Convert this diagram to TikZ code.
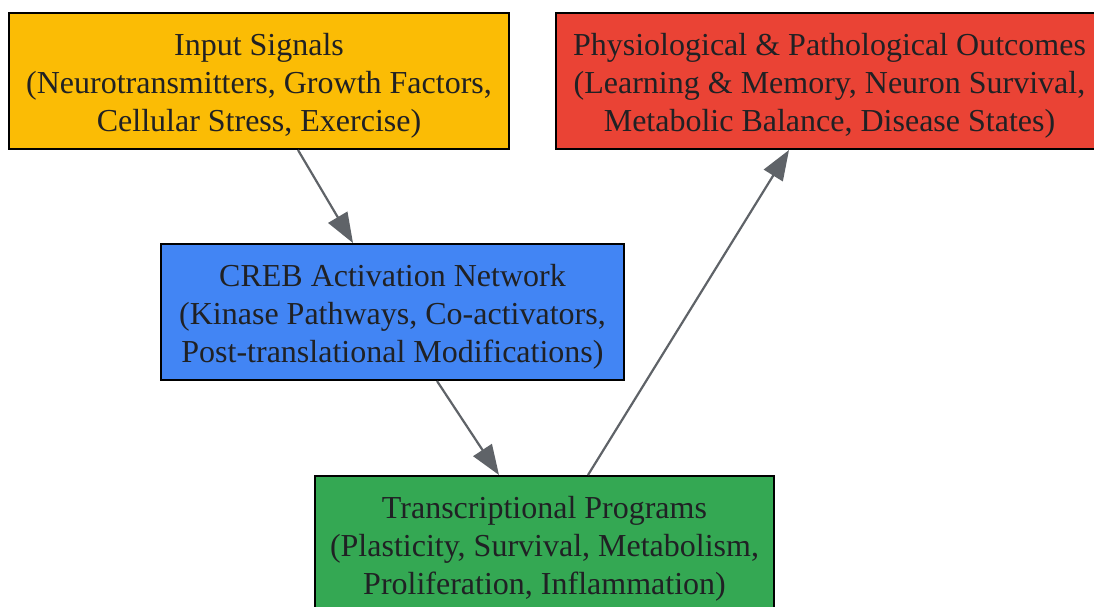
\documentclass[tikz,border=0pt]{standalone}
\usepackage{fontspec}
\setmainfont{Liberation Serif}
\usetikzlibrary{arrows.meta}

\definecolor{sigyellow}{HTML}{FBBC05}
\definecolor{outred}{HTML}{EA4335}
\definecolor{crebblue}{HTML}{4285F4}
\definecolor{progreen}{HTML}{34A853}
\definecolor{edgegray}{HTML}{5F6368}
\definecolor{txtdark}{HTML}{202124}

% extra room above the first line, pushes the text block down a little
\newcommand{\stagepad}{\rule{0pt}{32pt}}

\begin{document}
\begin{tikzpicture}[x=1pt,y=-1pt,
    box/.style={draw=black,line width=2pt,align=center,inner sep=0pt,
                text=txtdark,font=\fontsize{32}{38}\selectfont},
    link/.style={draw=edgegray,line width=2.2pt,
                 -{Triangle[length=30pt,width=22pt]}}]
    \useasboundingbox (0,0) rectangle (1094,606);

    % the four stages
    \node[box,fill=sigyellow,minimum width=500pt,minimum height=136pt] (inp) at (259,81)
        {\stagepad Input Signals\\(Neurotransmitters, Growth Factors,\\Cellular Stress, Exercise)};
    \node[box,fill=outred,minimum width=547pt,minimum height=136pt] (out) at (829.5,81)
        {\stagepad Physiological \& Pathological Outcomes\\(Learning \& Memory, Neuron Survival,\\Metabolic Balance, Disease States)};
    \node[box,fill=crebblue,minimum width=463pt,minimum height=136pt] (creb) at (392.5,312)
        {\stagepad CREB Activation Network\\(Kinase Pathways, Co-activators,\\Post-translational Modifications)};
    \node[box,fill=progreen,minimum width=459pt,minimum height=136pt] (prog) at (544.5,544)
        {\stagepad Transcriptional Programs\\(Plasticity, Survival, Metabolism,\\Proliferation, Inflammation)};

    % flow
    \draw[link] ([xshift=39pt]inp.south) -- ([xshift=-39.5pt]creb.north);
    \draw[link] ([xshift=44.5pt]creb.south) -- ([xshift=-45.5pt]prog.north);
    \draw[link] ([xshift=43.5pt]prog.north) -- ([xshift=-40.5pt]out.south);
\end{tikzpicture}
\end{document}
